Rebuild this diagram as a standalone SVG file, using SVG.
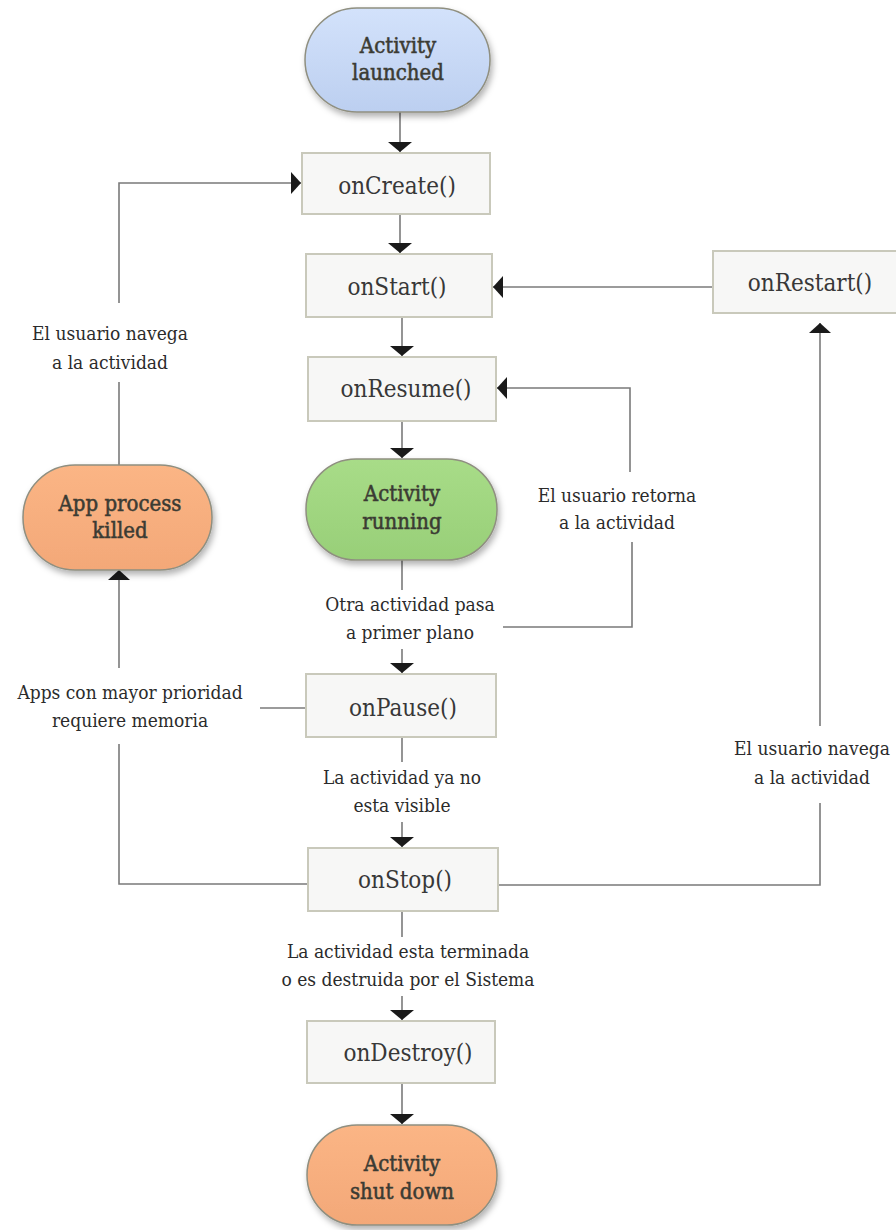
<svg xmlns="http://www.w3.org/2000/svg" width="896" height="1230" viewBox="0 0 896 1230">
<style>
  .box{fill:#f7f7f6;stroke:#c9c9bb;stroke-width:2}
  .pill{stroke:#8f8f80;stroke-width:1.5}
  .ntxt{font-family:"DejaVu Serif","Liberation Serif",serif;font-stretch:condensed;font-size:24px;fill:#383838;text-anchor:middle}
  .ptxt{font-family:"DejaVu Serif","Liberation Serif",serif;font-stretch:condensed;font-size:22px;fill:#3b3b33;stroke:#3b3b33;stroke-width:0.5;text-anchor:middle}
  .lbl{font-family:"DejaVu Serif","Liberation Serif",serif;font-stretch:condensed;font-size:19px;fill:#2b2b2b;text-anchor:middle}
  .ln{fill:none;stroke:#7a7a7a;stroke-width:1.6}
</style>
<defs>
  <marker id="ah" markerUnits="userSpaceOnUse" markerWidth="24" markerHeight="24" viewBox="-12 -12 24 24" refX="0" refY="0" orient="auto">
    <path d="M0,0 L-10,-11 L-10,11 Z" fill="#1a1a1a"/>
  </marker>
  <marker id="ahv" markerUnits="userSpaceOnUse" markerWidth="26" markerHeight="26" viewBox="-13 -13 26 26" refX="0" refY="0" orient="auto">
    <path d="M0,0 L-10,-12 L-10,12 Z" fill="#1a1a1a"/>
  </marker>
  <filter id="sh" x="-20%" y="-20%" width="140%" height="150%">
    <feDropShadow dx="2" dy="4" stdDeviation="3" flood-color="#000" flood-opacity="0.3"/>
  </filter>
  <linearGradient id="gBlue" x1="0" y1="0" x2="0" y2="1">
    <stop offset="0" stop-color="#d3e2fb"/><stop offset="1" stop-color="#bccff0"/>
  </linearGradient>
  <linearGradient id="gGreen" x1="0" y1="0" x2="0" y2="1">
    <stop offset="0" stop-color="#a8dc88"/><stop offset="1" stop-color="#98cf78"/>
  </linearGradient>
  <linearGradient id="gOrange" x1="0" y1="0" x2="0" y2="1">
    <stop offset="0" stop-color="#fbb585"/><stop offset="1" stop-color="#f3a878"/>
  </linearGradient>
</defs>

<g id="connectors">
  <line class="ln" x1="400" y1="112" x2="400" y2="152" marker-end="url(#ahv)"/>
  <line class="ln" x1="400" y1="214" x2="400" y2="253" marker-end="url(#ahv)"/>
  <line class="ln" x1="402" y1="317" x2="402" y2="356" marker-end="url(#ahv)"/>
  <line class="ln" x1="402" y1="421" x2="402" y2="458" marker-end="url(#ahv)"/>
  <line class="ln" x1="402" y1="560" x2="402" y2="590"/>
  <line class="ln" x1="402" y1="649" x2="402" y2="673" marker-end="url(#ahv)"/>
  <line class="ln" x1="402" y1="737" x2="402" y2="762"/>
  <line class="ln" x1="402" y1="822" x2="402" y2="847" marker-end="url(#ahv)"/>
  <line class="ln" x1="402" y1="911" x2="402" y2="937"/>
  <line class="ln" x1="402" y1="996" x2="402" y2="1020" marker-end="url(#ahv)"/>
  <line class="ln" x1="402" y1="1083" x2="402" y2="1124" marker-end="url(#ahv)"/>
  <polyline class="ln" points="119,465 119,382"/>
  <polyline class="ln" points="119,303 119,183 301,183" marker-end="url(#ah)"/>
  <line class="ln" x1="713" y1="287" x2="493" y2="287" marker-end="url(#ah)"/>
  <polyline class="ln" points="503,627 632,627 632,542"/>
  <polyline class="ln" points="630,472 630,388 497,388" marker-end="url(#ah)"/>
  <polyline class="ln" points="498,885 820,885 820,803"/>
  <polyline class="ln" points="820,726 820,323" marker-end="url(#ah)"/>
  <line class="ln" x1="260" y1="708" x2="306" y2="708"/>
  <polyline class="ln" points="308,884 119,884 119,744"/>
  <polyline class="ln" points="119,668 119,570" marker-end="url(#ah)"/>
</g>

<g id="activity-launched">
  <rect class="pill" x="305" y="8" width="185" height="104" rx="52" fill="url(#gBlue)" filter="url(#sh)"/>
  <text class="ptxt" x="398" y="53">Activity</text>
  <text class="ptxt" x="398" y="80">launched</text>
</g>
<g id="onCreate">
  <rect class="box" x="302" y="153" width="188" height="61"/>
  <text class="ntxt" x="397" y="194">onCreate()</text>
</g>
<g id="onStart">
  <rect class="box" x="306" y="254" width="186" height="63"/>
  <text class="ntxt" x="397" y="295">onStart()</text>
</g>
<g id="onRestart">
  <rect class="box" x="713" y="251" width="184" height="62"/>
  <text class="ntxt" x="810" y="291">onRestart()</text>
</g>
<g id="onResume">
  <rect class="box" x="308" y="357" width="188" height="64"/>
  <text class="ntxt" x="406" y="397">onResume()</text>
</g>
<g id="activity-running">
  <rect class="pill" x="306" y="459" width="191" height="101" rx="50" fill="url(#gGreen)" filter="url(#sh)"/>
  <text class="ptxt" x="402" y="501">Activity</text>
  <text class="ptxt" x="402" y="529">running</text>
</g>
<g id="app-process-killed">
  <rect class="pill" x="23" y="465" width="189" height="105" rx="52" fill="url(#gOrange)" filter="url(#sh)"/>
  <text class="ptxt" x="120" y="511">App process</text>
  <text class="ptxt" x="120" y="538">killed</text>
</g>
<g id="onPause">
  <rect class="box" x="306" y="674" width="190" height="63"/>
  <text class="ntxt" x="403" y="716">onPause()</text>
</g>
<g id="onStop">
  <rect class="box" x="308" y="848" width="190" height="63"/>
  <text class="ntxt" x="405" y="888">onStop()</text>
</g>
<g id="onDestroy">
  <rect class="box" x="307" y="1021" width="188" height="62"/>
  <text class="ntxt" x="408" y="1061">onDestroy()</text>
</g>
<g id="activity-shut-down">
  <rect class="pill" x="307" y="1125" width="190" height="100" rx="50" fill="url(#gOrange)" filter="url(#sh)"/>
  <text class="ptxt" x="402" y="1171">Activity</text>
  <text class="ptxt" x="402" y="1199">shut down</text>
</g>

<g id="labels">
  <text class="lbl" x="110" y="340">El usuario navega</text>
  <text class="lbl" x="110" y="369">a la actividad</text>
  <text class="lbl" x="617" y="502">El usuario retorna</text>
  <text class="lbl" x="617" y="529">a la actividad</text>
  <text class="lbl" x="410" y="611">Otra actividad pasa</text>
  <text class="lbl" x="410" y="639">a primer plano</text>
  <text class="lbl" x="130" y="699">Apps con mayor prioridad</text>
  <text class="lbl" x="130" y="727">requiere memoria</text>
  <text class="lbl" x="402" y="784">La actividad ya no</text>
  <text class="lbl" x="402" y="812">esta visible</text>
  <text class="lbl" x="812" y="755">El usuario navega</text>
  <text class="lbl" x="812" y="784">a la actividad</text>
  <text class="lbl" x="408" y="958">La actividad esta terminada</text>
  <text class="lbl" x="408" y="986">o es destruida por el Sistema</text>
</g>
</svg>
